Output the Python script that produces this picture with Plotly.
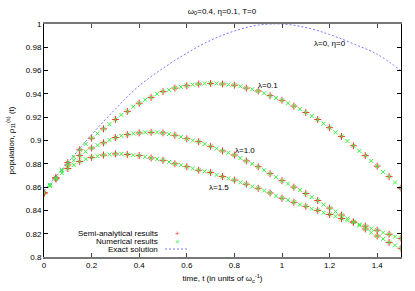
import plotly.graph_objects as go

# ---- data ----
t_num = [round(0.025 * i, 3) for i in range(61)]

num_l01 = [0.855, 0.862, 0.868, 0.875, 0.881, 0.886, 0.892, 0.897, 0.902, 0.906,
           0.910, 0.914, 0.918, 0.922, 0.925, 0.929, 0.932, 0.935, 0.937, 0.940,
           0.942, 0.9435, 0.945, 0.946, 0.947, 0.948, 0.9485, 0.949, 0.949, 0.949,
           0.9485, 0.948, 0.9475, 0.9465, 0.945, 0.944, 0.9425, 0.9405, 0.9385, 0.9365,
           0.9345, 0.932, 0.9295, 0.927, 0.924, 0.921, 0.918, 0.9145, 0.911, 0.907,
           0.9035, 0.8995, 0.8955, 0.891, 0.887, 0.8825, 0.878, 0.873, 0.869, 0.864,
           0.859]

num_l10 = [0.855, 0.862, 0.868, 0.874, 0.879, 0.883, 0.887, 0.8905, 0.8935, 0.896,
           0.898, 0.9005, 0.9025, 0.904, 0.905, 0.906, 0.9065, 0.907, 0.907, 0.907,
           0.9065, 0.9055, 0.9045, 0.903, 0.9015, 0.900, 0.899, 0.897, 0.895, 0.893,
           0.891, 0.8895, 0.8875, 0.885, 0.8825, 0.880, 0.8775, 0.8745, 0.8715, 0.8685,
           0.8655, 0.863, 0.860, 0.8575, 0.8545, 0.8515, 0.8485, 0.845, 0.842, 0.839,
           0.836, 0.833, 0.830, 0.827, 0.824, 0.821, 0.818, 0.8155, 0.8125, 0.810,
           0.8075]

num_l15 = [0.855, 0.861, 0.867, 0.872, 0.876, 0.879, 0.882, 0.884, 0.8855, 0.8865,
           0.8875, 0.888, 0.8885, 0.8885, 0.888, 0.8875, 0.887, 0.886, 0.885, 0.884,
           0.883, 0.8815, 0.880, 0.879, 0.8775, 0.876, 0.8745, 0.8735, 0.8725, 0.8705,
           0.869, 0.8675, 0.866, 0.864, 0.8625, 0.8605, 0.859, 0.857, 0.855, 0.8525,
           0.8505, 0.849, 0.847, 0.845, 0.8435, 0.8415, 0.840, 0.838, 0.8365, 0.835,
           0.833, 0.8315, 0.830, 0.828, 0.8265, 0.8245, 0.823, 0.821, 0.8195, 0.8175,
           0.816]

# semi-analytical points coincide with the numerical ones, sampled every 0.05
t_semi = t_num[::2]
semi_l01 = num_l01[::2]
semi_l10 = num_l10[::2]
semi_l15 = num_l15[::2]

t_exact = [0.0, 0.1, 0.2, 0.3, 0.4, 0.5, 0.6, 0.7, 0.8, 0.9, 1.0, 1.1, 1.2, 1.3, 1.4, 1.5]
exact = [0.857, 0.881, 0.905, 0.927, 0.947, 0.962, 0.975, 0.986, 0.994, 0.999,
         1.000, 0.997, 0.991, 0.983, 0.974, 0.960]

x_ticks = [0, 0.2, 0.4, 0.6, 0.8, 1.0, 1.2, 1.4]
x_ticktext = ["0", "0.2", "0.4", "0.6", "0.8", "1", "1.2", "1.4"]
y_ticks = [0.8, 0.82, 0.84, 0.86, 0.88, 0.9, 0.92, 0.94, 0.96, 0.98, 1.0]
y_ticktext = ["0.8", "0.82", "0.84", "0.86", "0.88", "0.9", "0.92", "0.94", "0.96", "0.98", "1"]

curve_labels = [("λ=0, η=0", 1.2, 0.983), ("λ=0.1", 0.943, 0.947),
                ("λ=1.0", 0.845, 0.891), ("λ=1.5", 0.735, 0.860)]

RED = "rgb(255,50,50)"
GREEN = "rgb(60,240,60)"
BLUE = "rgb(120,120,255)"
FONT = "Liberation Sans, Arial, sans-serif"

W, H = 415, 291
L, R, T, B = 44.0, 401.0, 24.0, 257.0

fig = go.Figure()
for ys in (semi_l01, semi_l10, semi_l15):
    fig.add_trace(go.Scatter(x=t_semi, y=ys, mode="markers", showlegend=False,
                             marker=dict(symbol="cross-thin", size=5,
                                         line=dict(color=RED, width=1))))
for ys in (num_l01, num_l10, num_l15):
    fig.add_trace(go.Scatter(x=t_num, y=ys, mode="markers", showlegend=False,
                             marker=dict(symbol="x-thin", size=4,
                                         line=dict(color=GREEN, width=1))))
fig.add_trace(go.Scatter(x=t_exact, y=exact, mode="lines", showlegend=False,
                         line=dict(color=BLUE, width=1, dash="2px,2px", shape="spline")))

def px2paper_x(px):
    return (px - L) / (R - L)

def px2paper_y(py):
    return (B - py) / (B - T)

annotations = []
for txt, xv, yv in curve_labels:
    annotations.append(dict(x=xv, y=yv, xref="x", yref="y", text=txt, showarrow=False,
                            font=dict(size=8, color="black", family=FONT)))

legend_items = [("Semi-analytical results", 233), ("Numerical results", 241),
                ("Exact solution", 249)]
for txt, py in legend_items:
    annotations.append(dict(x=px2paper_x(160), y=px2paper_y(py), xref="paper", yref="paper",
                            text=txt, showarrow=False, xanchor="right", yanchor="middle",
                            font=dict(size=8, color="black", family=FONT)))
annotations.append(dict(x=px2paper_x(177), y=px2paper_y(233), xref="paper", yref="paper",
                        text="+", showarrow=False, yanchor="middle",
                        font=dict(size=8, color=RED, family=FONT)))
annotations.append(dict(x=px2paper_x(177), y=px2paper_y(241), xref="paper", yref="paper",
                        text="×", showarrow=False, yanchor="middle",
                        font=dict(size=8, color=GREEN, family=FONT)))
shapes = [dict(type="line", xref="paper", yref="paper",
               x0=px2paper_x(165), x1=px2paper_x(187),
               y0=px2paper_y(249), y1=px2paper_y(249),
               line=dict(color=BLUE, width=1, dash="2px,2px"))]

fig.update_layout(
    width=W, height=H,
    margin=dict(l=L, r=W - R, t=T, b=H - B, autoexpand=False),
    paper_bgcolor="white", plot_bgcolor="white",
    font=dict(family=FONT, size=8, color="black"),
    title=dict(text="ω<sub>0</sub>=0.4, η=0.1, T=0", x=222 / W, xanchor="center",
               y=1 - 11 / H, yanchor="middle", font=dict(size=8)),
    annotations=annotations, shapes=shapes,
    xaxis=dict(range=[0, 1.5], tickvals=x_ticks, ticktext=x_ticktext, automargin=False,
               showgrid=False, zeroline=False, showline=True, linecolor="#777",
               linewidth=1.6, mirror="ticks", ticks="inside", ticklen=4,
               tickcolor="#444", tickfont=dict(size=8),
               title=dict(text="time, t (in units of ω<sub>c</sub><sup>-1</sup>)",
                          font=dict(size=8), standoff=6)),
    yaxis=dict(range=[0.8, 1.0], tickvals=y_ticks, ticktext=y_ticktext, automargin=False,
               showgrid=False, zeroline=False, showline=True, linecolor="black",
               linewidth=1, mirror="ticks", ticks="inside", ticklen=4,
               tickcolor="black", tickfont=dict(size=8),
               title=dict(text="population, ρ<sub>11</sub><sup>(s)</sup> (t)",
                          font=dict(size=8), standoff=10)),
)

fig.write_html("out.html", config={"displayModeBar": False},
               post_script="document.body.style.margin='0';document.body.style.padding='0';")
